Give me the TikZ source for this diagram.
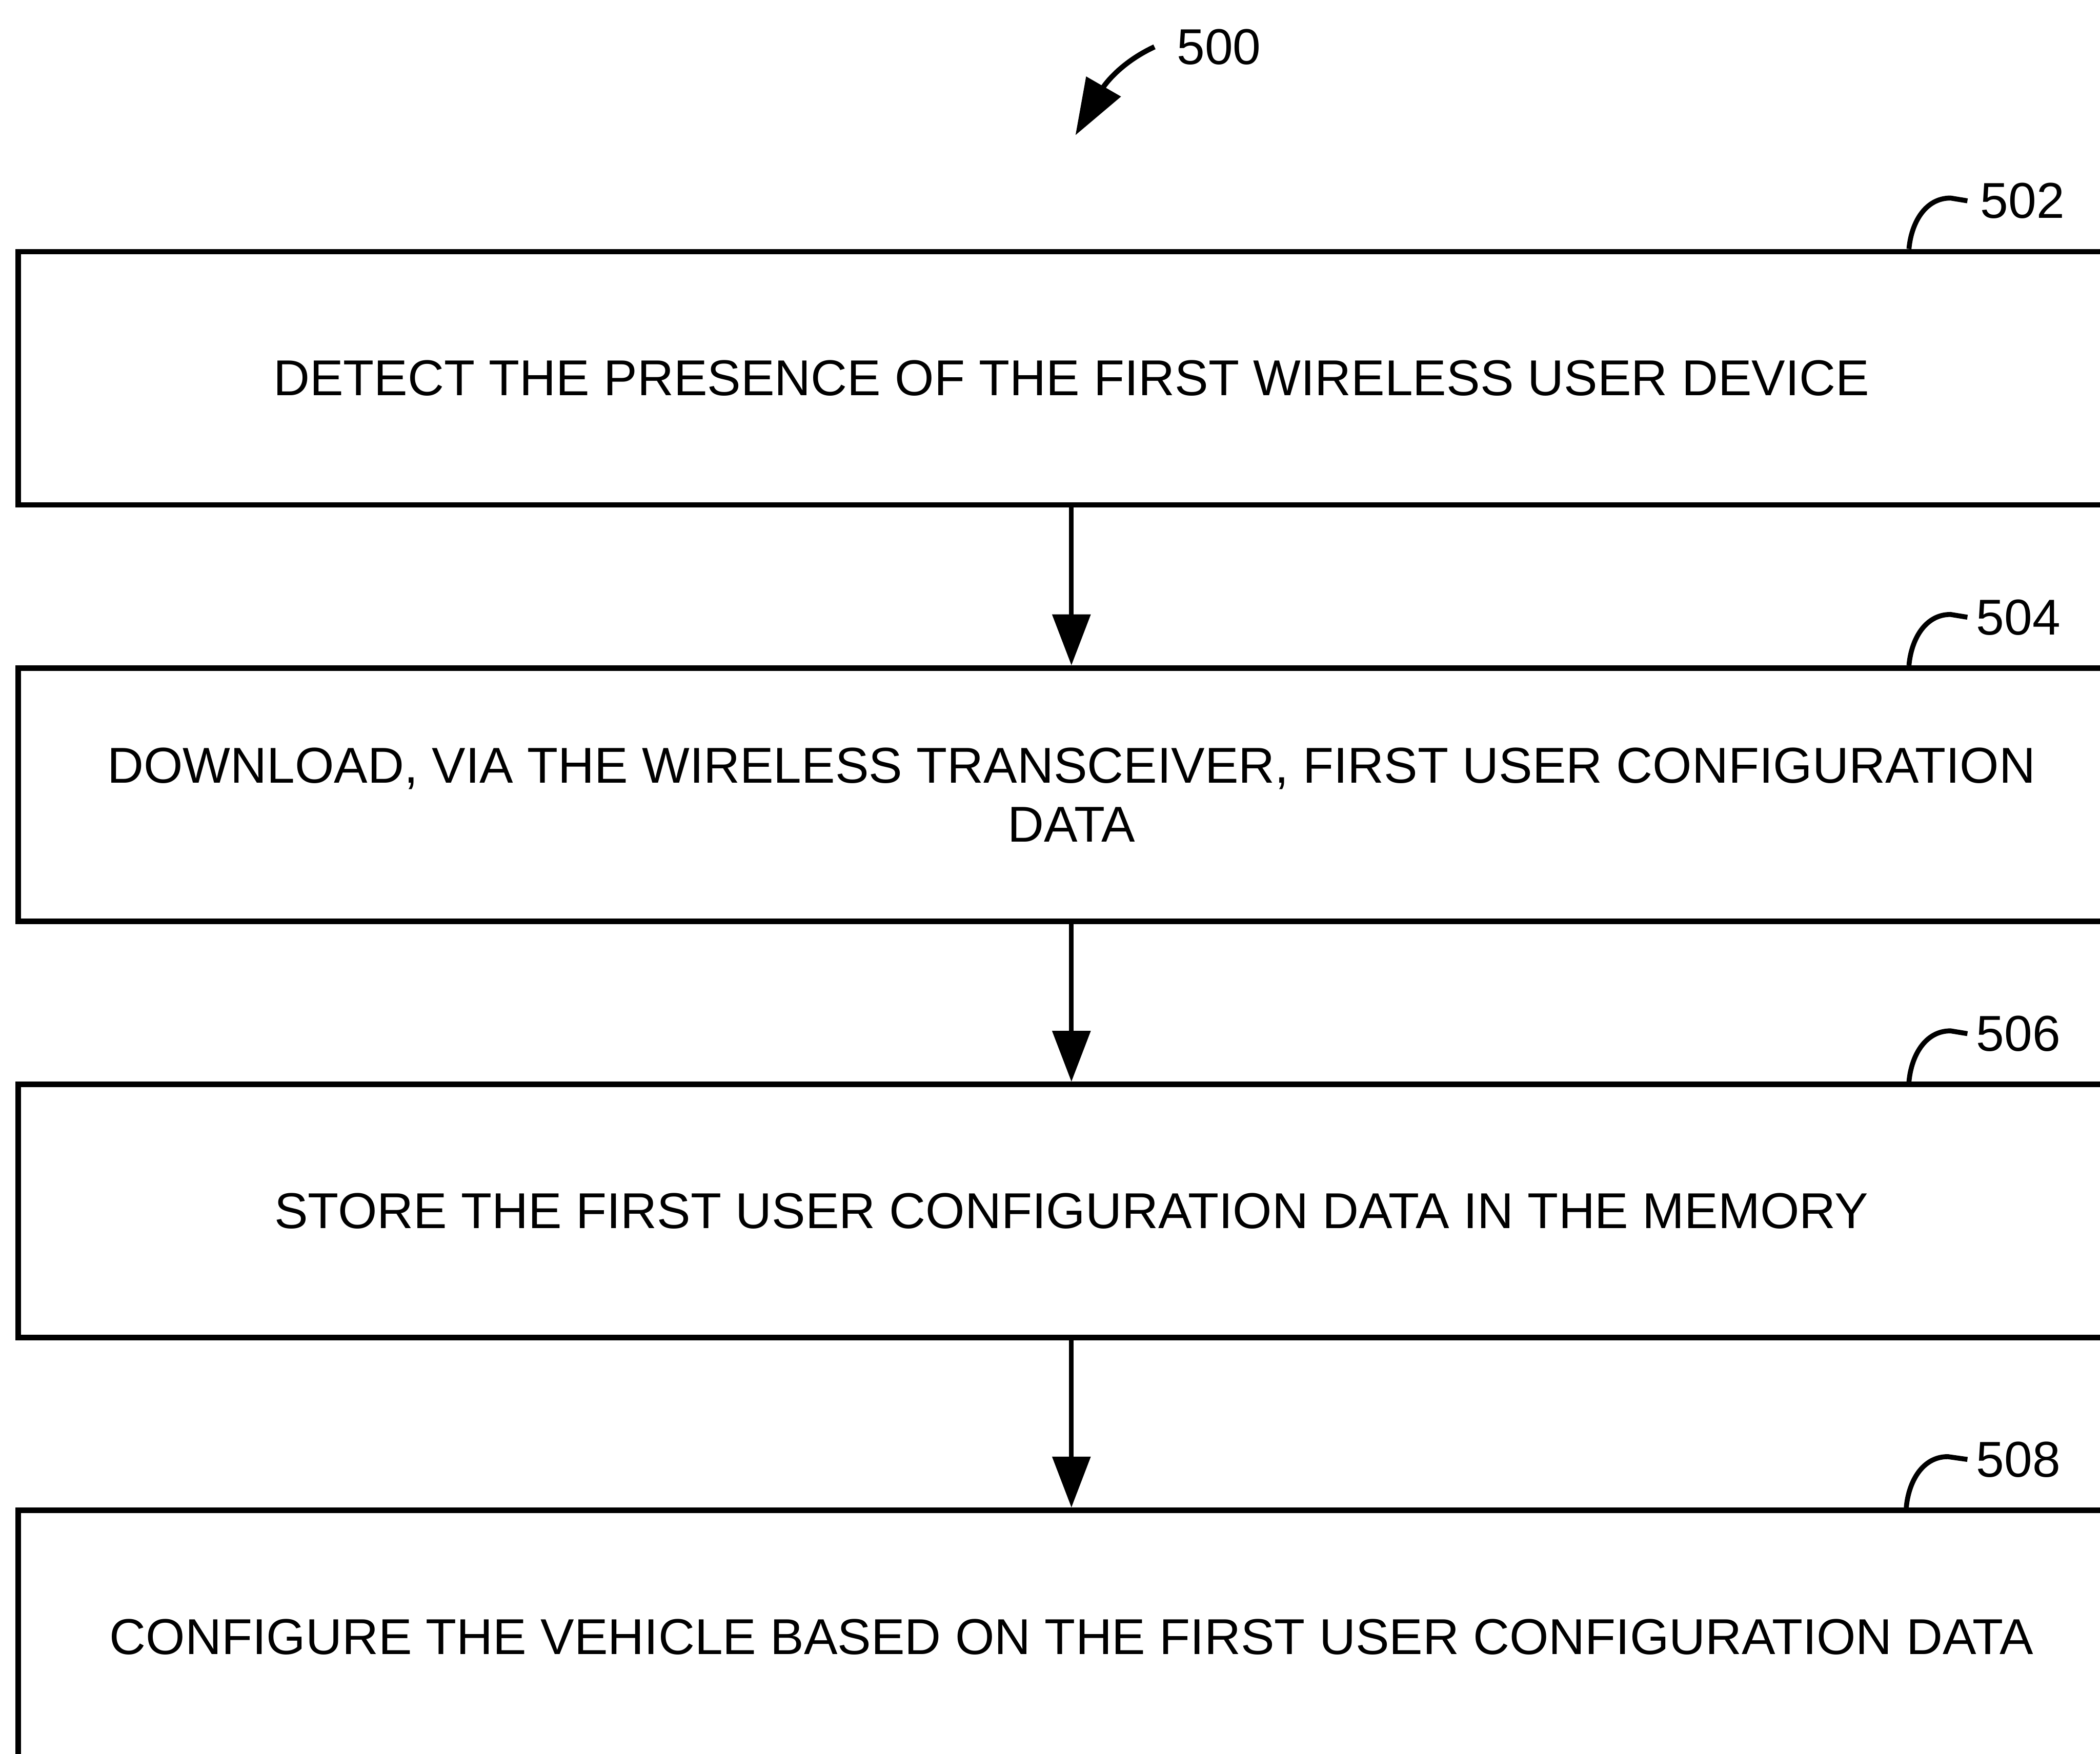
\documentclass[tikz,border=0pt]{standalone}
\usepackage{fontspec}
\setmainfont{Liberation Sans}
\usetikzlibrary{arrows.meta}
\begin{document}
\begin{tikzpicture}[x=0.01cm,y=0.01cm,
  txt/.style={font=\fontsize{10.7}{12.5}\selectfont},
  stepbox/.style={txt,draw,line width=1.15pt,minimum width=15.72cm,
    minimum height=1.89cm,inner sep=0pt,align=center},
  flow/.style={line width=1pt,-{Triangle[length=3.8mm,width=2.8mm]}},
  bigflow/.style={line width=1.1pt,-{Triangle[length=4.2mm,width=2.9mm]}},
  leader/.style={line width=1.05pt},
  reflabel/.style={txt,anchor=west,inner sep=0pt}]
\useasboundingbox (0,0) rectangle (1568,-1310);
\clip (0,0) rectangle (1568,-1310);

% process steps
\node[stepbox] (s502) at (800,-282.5) {DETECT THE PRESENCE OF THE FIRST WIRELESS USER DEVICE};
\node[stepbox] (s504) at (800,-593.5) {DOWNLOAD, VIA THE WIRELESS TRANSCEIVER, FIRST USER CONFIGURATION\\DATA};
\node[stepbox] (s506) at (800,-904.5) {STORE THE FIRST USER CONFIGURATION DATA IN THE MEMORY};
\node[stepbox] (s508) at (800,-1222.5) {CONFIGURE THE VEHICLE BASED ON THE FIRST USER CONFIGURATION DATA};

% flow between steps
\draw[flow] (s502.south) -- (s504.north);
\draw[flow] (s504.south) -- (s506.north);
\draw[flow] (s506.south) -- (s508.north);

% reference numerals
\node[reflabel] (n502) at (1478,-150) {502};
\node[reflabel] (n504) at (1475,-461) {504};
\node[reflabel] (n506) at (1475,-772) {506};
\node[reflabel] (n508) at (1475,-1090) {508};

\draw[leader] ([xshift=6.25cm]s502.north) to[out=85,in=180] ++(31,38) -- ([xshift=-0.09cm]n502.west);
\draw[leader] ([xshift=6.25cm]s504.north) to[out=85,in=180] ++(31,38) -- ([xshift=-0.06cm]n504.west);
\draw[leader] ([xshift=6.25cm]s506.north) to[out=85,in=180] ++(31,38) -- ([xshift=-0.06cm]n506.west);
\draw[leader] ([xshift=6.23cm]s508.north) to[out=85,in=180] ++(31,38) -- ([xshift=-0.06cm]n508.west);

% figure numeral with its arrow
\node[reflabel] (n500) at (878,-35) {500};
\coordinate (t500) at (803,-101);
\draw[bigflow] ([xshift=-0.16cm]n500.west) to[out=205,in=60] (t500);
\end{tikzpicture}
\end{document}
